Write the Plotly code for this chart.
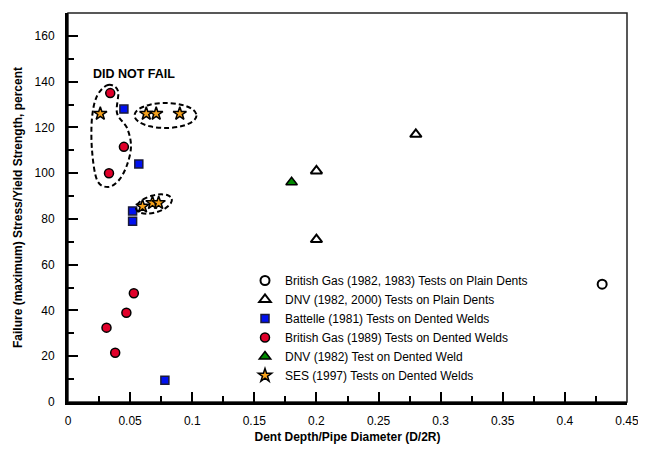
import math
import plotly.graph_objects as go

# ---------------- data ----------------
x_ticks = [0, 0.05, 0.1, 0.15, 0.2, 0.25, 0.3, 0.35, 0.4, 0.45]
x_tick_labels = ["0", "0.05", "0.1", "0.15", "0.2", "0.25", "0.3", "0.35", "0.4", "0.45"]
y_ticks = [0, 20, 40, 60, 80, 100, 120, 140, 160]
y_tick_labels = ["0", "20", "40", "60", "80", "100", "120", "140", "160"]

bg_plain_x = [0.43]
bg_plain_y = [51.5]

dnv_plain_x = [0.28, 0.20, 0.20]
dnv_plain_y = [117, 101, 71]

battelle_x = [0.045, 0.057, 0.052, 0.052, 0.078]
battelle_y = [128, 104, 83.5, 79, 9.5]

bg1989_x = [0.034, 0.045, 0.033, 0.053, 0.047, 0.031, 0.038]
bg1989_y = [135, 111.5, 100, 47.5, 39, 32.5, 21.5]

dnv_weld_x = [0.18]
dnv_weld_y = [96]

ses_x = [0.026, 0.063, 0.071, 0.09, 0.060, 0.068, 0.073]
ses_y = [126, 126, 126, 126, 85.5, 87, 87]

names = [
    "British Gas (1982, 1983) Tests on Plain Dents",
    "DNV (1982, 2000) Tests on Plain Dents",
    "Battelle (1981) Tests on Dented Welds",
    "British Gas (1989) Tests on Dented Welds",
    "DNV (1982) Test on Dented Weld",
    "SES (1997) Tests on Dented Welds",
]

# ---------------- layout constants ----------------
OFF = 8                      # page body margin in the browser
W, H = 646 - OFF, 455 - OFF
PL, PR, PT, PB = 68, 627, 13, 402   # plot area in window pixels
ML, MT = PL - OFF, PT - OFF
MR = W - (PR - OFF)
MB = H - (PB - OFF)
XR = [0, 0.45]
YR = [0, 170]
PW = PR - PL
PH = PB - PT


def px2data(px, py):
    """window pixel -> data coordinates"""
    x = XR[0] + (px - PL) / PW * (XR[1] - XR[0])
    y = YR[0] + (PB - py) / PH * (YR[1] - YR[0])
    return x, y


def smooth_closed_path(pts_px):
    n = len(pts_px)
    d = ["M %.5f,%.4f" % px2data(*pts_px[0])]
    for i in range(n):
        pa = pts_px[(i - 1) % n]
        pb = pts_px[i]
        pc = pts_px[(i + 1) % n]
        pd = pts_px[(i + 2) % n]
        c1 = (pb[0] + (pc[0] - pa[0]) / 6.0, pb[1] + (pc[1] - pa[1]) / 6.0)
        c2 = (pc[0] - (pd[0] - pb[0]) / 6.0, pc[1] - (pd[1] - pb[1]) / 6.0)
        d.append("C %.5f,%.4f %.5f,%.4f %.5f,%.4f" % (px2data(*c1) + px2data(*c2) + px2data(*pc)))
    d.append("Z")
    return " ".join(d)


def ellipse_pts(cx, cy, a, b, ang_deg, n=12):
    t = math.radians(ang_deg)
    pts = []
    for k in range(n):
        th = 2 * math.pi * k / n
        ex, ey = a * math.cos(th), b * math.sin(th)
        pts.append((cx + ex * math.cos(t) - ey * math.sin(t),
                    cy + ex * math.sin(t) + ey * math.cos(t)))
    return pts


left_outline_px = [
    (108, 85), (118, 91), (117, 113), (127, 128), (131, 146), (127, 165),
    (119, 180), (108, 187), (97, 180), (92, 150), (92, 118), (97, 96),
]

dash_line = dict(color="black", width=2, dash="5px,3px")

shapes = [
    dict(type="path", xref="x", yref="y", path=smooth_closed_path(left_outline_px), line=dash_line),
    dict(type="path", xref="x", yref="y", path=smooth_closed_path(ellipse_pts(165.5, 115.5, 31, 12.5, 0)), line=dash_line),
    dict(type="path", xref="x", yref="y", path=smooth_closed_path(ellipse_pts(154, 204, 18.5, 8.5, -16)), line=dash_line),
    dict(type="rect", xref="paper", yref="paper", x0=0, x1=1, y0=0, y1=1,
         line=dict(color="#222222", width=1.5), layer="below"),
]

font_family = "Liberation Sans, Arial, sans-serif"

fig = go.Figure()
fig.add_trace(go.Scatter(
    x=bg_plain_x, y=bg_plain_y, mode="markers", name=names[0],
    marker=dict(symbol="circle", size=9, color="white", line=dict(color="black", width=2))))
fig.add_trace(go.Scatter(
    x=dnv_plain_x, y=dnv_plain_y, mode="markers", name=names[1],
    marker=dict(symbol="triangle-up", size=10, color="white", line=dict(color="black", width=2))))
fig.add_trace(go.Scatter(
    x=battelle_x, y=battelle_y, mode="markers", name=names[2],
    marker=dict(symbol="square", size=8, color="#0010F0", line=dict(color="#1a1a3a", width=1.5))))
fig.add_trace(go.Scatter(
    x=bg1989_x, y=bg1989_y, mode="markers", name=names[3],
    marker=dict(symbol="circle", size=9, color="#E0002A", line=dict(color="black", width=1.5))))
fig.add_trace(go.Scatter(
    x=dnv_weld_x, y=dnv_weld_y, mode="markers", name=names[4],
    marker=dict(symbol="triangle-up", size=10, color="#008A00", line=dict(color="black", width=1.5))))
fig.add_trace(go.Scatter(
    x=ses_x, y=ses_y, mode="markers", name=names[5],
    marker=dict(symbol="star", size=10, color="#F7A21B", line=dict(color="black", width=1.5))))

axis_common = dict(
    showgrid=False, zeroline=False, showline=True, linecolor="black", linewidth=3,
    ticks="inside", ticklen=10, tickwidth=2, tickcolor="black", tickmode="array",
    automargin=False,
    tickfont=dict(family=font_family, size=12, color="black"),
)

fig.update_layout(
    width=W, height=H,
    margin=dict(l=ML, r=MR, t=MT, b=MB, pad=0, autoexpand=False),
    paper_bgcolor="white", plot_bgcolor="white",
    font=dict(family=font_family, size=12, color="black"),
    xaxis=dict(
        range=XR, tickvals=x_ticks, ticktext=x_tick_labels,
        minor=dict(tickmode="linear", dtick=0.025, tick0=0, ticks="inside", ticklen=6, tickwidth=2, tickcolor="black"),
        ticklabelstandoff=6,
        title=dict(text="Dent Depth/Pipe Diameter (D/2R)", standoff=6,
                   font=dict(family=font_family, size=12, weight="bold", color="black")),
        **axis_common),
    yaxis=dict(
        range=YR, tickvals=y_ticks, ticktext=y_tick_labels,
        minor=dict(tickmode="linear", dtick=10, tick0=0, ticks="inside", ticklen=6, tickwidth=2, tickcolor="black"),
        ticklabelstandoff=8,
        title=dict(text="Failure (maximum) Stress/Yield Strength, percent", standoff=10,
                   font=dict(family=font_family, size=12, weight="bold", color="black")),
        **axis_common),
    legend=dict(
        x=(245 - PL) / PW, y=(PB - 266) / PH, xanchor="left", yanchor="top",
        bgcolor="rgba(0,0,0,0)", borderwidth=0,
        font=dict(family=font_family, size=12, color="black"),
        itemwidth=30, tracegroupgap=0,
    ),
    shapes=shapes,
    annotations=[dict(
        x=px2data(91, 74)[0], y=px2data(91, 74)[1], xref="x", yref="y",
        xanchor="left", yanchor="middle", showarrow=False,
        text="DID NOT FAIL",
        font=dict(family=font_family, size=12.5, weight="bold", color="black"),
    )],
)

fig.write_html("out.html")
